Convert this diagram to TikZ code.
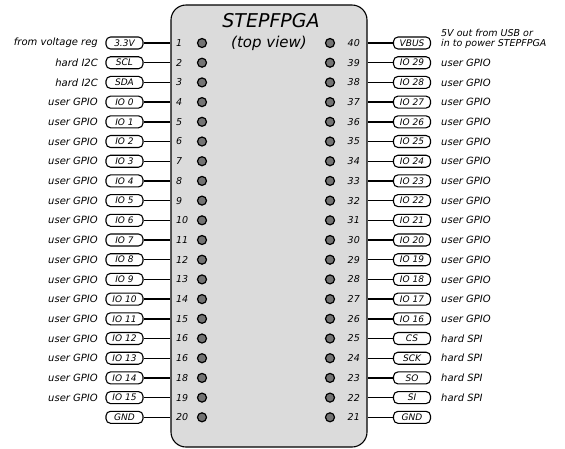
\documentclass[tikz,border=0pt]{standalone}
\usepackage{fontspec}
\setmainfont{DejaVu Sans}
\begin{document}
\begin{tikzpicture}[
    x=1pt, y=-1pt,
    txt/.style={font=\itshape\fontsize{10}{10}\selectfont, inner sep=0pt},
    num/.style={font=\itshape\fontsize{9.5}{10}\selectfont, inner sep=0pt},
    pinbox/.style={draw, line width=1.1pt, rounded corners=4.5pt,
                   minimum width=37pt, minimum height=12pt, inner sep=0pt,
                   font=\itshape\fontsize{9}{9}\selectfont},
    pad/.style={circle, draw, line width=1.2pt, fill=black!55,
                minimum size=9pt, inner sep=0pt},
    conn/.style={line width=1.4pt},
    chipbody/.style={draw, line width=1.1pt, fill=black!14,
                     rounded corners=15pt, minimum width=196pt,
                     minimum height=442pt, inner sep=0pt}
  ]
  \useasboundingbox (0, 0) rectangle (565, 448);
  % chip body
  \node[chipbody] (chip) at (269, 226) {};
  \node[font=\itshape\fontsize{19}{20}\selectfont, inner sep=0pt] (title) at (271, 21) {STEPFPGA};
  \node[font=\itshape\fontsize{15}{16}\selectfont, inner sep=0pt] (view) at (269, 43) {(top view)};
  % left side
  \foreach \k/\n/\lbl/\desc in {1/1/3.3V/from voltage reg, 2/2/SCL/hard I2C, 3/3/SDA/hard I2C,
      4/4/IO 0/user GPIO, 5/5/IO 1/user GPIO, 6/6/IO 2/user GPIO, 7/7/IO 3/user GPIO,
      8/8/IO 4/user GPIO, 9/9/IO 5/user GPIO, 10/10/IO 6/user GPIO, 11/11/IO 7/user GPIO,
      12/12/IO 8/user GPIO, 13/13/IO 9/user GPIO, 14/14/IO 10/user GPIO, 15/15/IO 11/user GPIO,
      16/16/IO 12/user GPIO, 17/16/IO 13/user GPIO, 18/18/IO 14/user GPIO, 19/19/IO 15/user GPIO,
      20/20/GND/} {
    \node[pinbox] (L\k) at (124.5, {43+(\k-1)*19.7}) {\lbl};
    \node[txt, anchor=east] (Ld\k) at (98, {43+(\k-1)*19.7}) {\desc};
    \node[num, anchor=west] (Ln\k) at (176, {43+(\k-1)*19.7}) {\n};
    \node[pad] (Lp\k) at (202, {43+(\k-1)*19.7}) {};
    \draw[conn] (L\k.east) -- (L\k.east -| chip.west);
  }
  % right side
  \foreach \k/\n/\lbl/\desc in {2/39/IO 29/user GPIO, 3/38/IO 28/user GPIO,
      4/37/IO 27/user GPIO, 5/36/IO 26/user GPIO, 6/35/IO 25/user GPIO, 7/34/IO 24/user GPIO,
      8/33/IO 23/user GPIO, 9/32/IO 22/user GPIO, 10/31/IO 21/user GPIO, 11/30/IO 20/user GPIO,
      12/29/IO 19/user GPIO, 13/28/IO 18/user GPIO, 14/27/IO 17/user GPIO, 15/26/IO 16/user GPIO,
      16/25/CS/hard SPI, 17/24/SCK/hard SPI, 18/23/SO/hard SPI, 19/22/SI/hard SPI,
      20/21/GND/} {
    \node[pinbox] (R\n) at (412, {43+(\k-1)*19.7}) {\lbl};
    \node[txt, anchor=west] (Rd\n) at (441, {43+(\k-1)*19.7}) {\desc};
    \node[num, anchor=east] (Rn\n) at (360, {43+(\k-1)*19.7}) {\n};
    \node[pad] (Rp\n) at (330, {43+(\k-1)*19.7}) {};
    \draw[conn] (R\n.west) -- (R\n.west -| chip.east);
  }
  % pin 40 with two-line note
  \node[pinbox] (R40) at (412, 43) {VBUS};
  \node[txt, anchor=west, align=left, font=\itshape\fontsize{9.5}{9.5}\selectfont] (Rd40) at (441, 39) {5V out from USB or\\in to power STEPFPGA};
  \node[num, anchor=east] (Rn40) at (360, 43) {40};
  \node[pad] (Rp40) at (330, 43) {};
  \draw[conn] (R40.west) -- (R40.west -| chip.east);
\end{tikzpicture}
\end{document}
